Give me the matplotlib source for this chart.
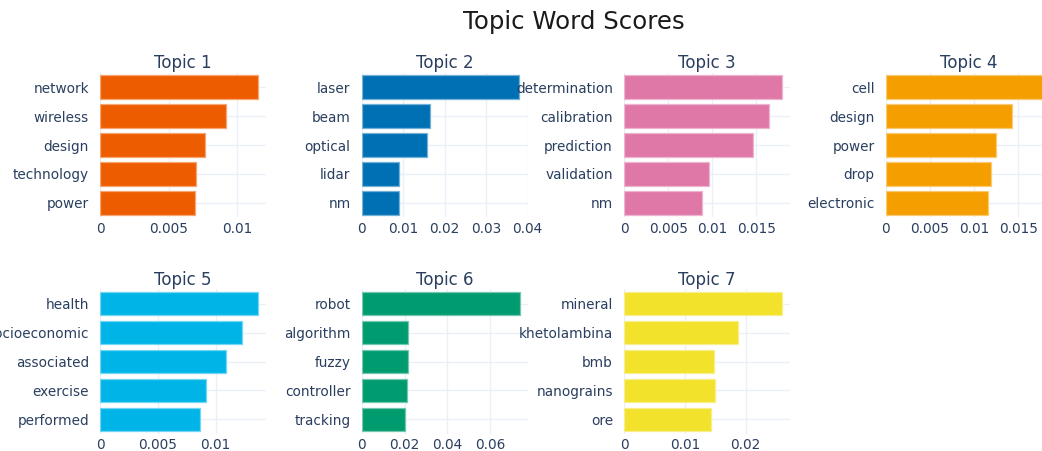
import matplotlib
matplotlib.use("Agg")
import matplotlib.pyplot as plt
import matplotlib.colors as mcolors

# ---- data ----
topic_titles = ["Topic 1", "Topic 2", "Topic 3", "Topic 4", "Topic 5", "Topic 6", "Topic 7"]
topic1_words = ["network", "wireless", "design", "technology", "power"]
topic1_scores = [0.01151, 0.00915, 0.00763, 0.0070, 0.0069]
topic2_words = ["laser", "beam", "optical", "lidar", "nm"]
topic2_scores = [0.0378, 0.0164, 0.0158, 0.0091, 0.0090]
topic3_words = ["determination", "calibration", "prediction", "validation", "nm"]
topic3_scores = [0.0179, 0.01643, 0.01466, 0.0096, 0.00884]
topic4_words = ["cell", "design", "power", "drop", "electronic"]
topic4_scores = [0.0179, 0.01428, 0.01248, 0.01188, 0.01157]
topic5_words = ["health", "socioeconomic", "associated", "exercise", "performed"]
topic5_scores = [0.01368, 0.01232, 0.01087, 0.00916, 0.00864]
topic6_words = ["robot", "algorithm", "fuzzy", "controller", "tracking"]
topic6_scores = [0.0738, 0.0218, 0.0215, 0.0211, 0.0200]
topic7_words = ["mineral", "khetolambina", "bmb", "nanograins", "ore"]
topic7_scores = [0.0260, 0.01873, 0.01488, 0.01490, 0.01438]

topic1_ticks = [0, 0.005, 0.01]
topic2_ticks = [0, 0.01, 0.02, 0.03, 0.04]
topic3_ticks = [0, 0.005, 0.01, 0.015]
topic4_ticks = [0, 0.005, 0.01, 0.015]
topic5_ticks = [0, 0.005, 0.01]
topic6_ticks = [0, 0.02, 0.04, 0.06]
topic7_ticks = [0, 0.01, 0.02]

colors = ["#EE5C00", "#0070B4", "#DF78A7", "#F59E00", "#00B4E8", "#009B6E", "#F2E22C"]

words = [topic1_words, topic2_words, topic3_words, topic4_words,
         topic5_words, topic6_words, topic7_words]
scores = [topic1_scores, topic2_scores, topic3_scores, topic4_scores,
          topic5_scores, topic6_scores, topic7_scores]
ticks = [topic1_ticks, topic2_ticks, topic3_ticks, topic4_ticks,
         topic5_ticks, topic6_ticks, topic7_ticks]

# ---- layout ----
W, H = 1042, 451
fig = plt.figure(figsize=(W / 100, H / 100), dpi=100)
fig.patch.set_facecolor("white")

col_left_px = [100, 361.7, 624, 885.7]
width_px = 166
row_top_px = [72.6, 289.1]
height_px = 144.8

text_color = "#2a3f5f"
grid_color = "#EBF0F8"

def fmt(v):
    return "0" if v == 0 else "{:g}".format(v)

for i in range(7):
    r, c = divmod(i, 4)
    left = col_left_px[c] / W
    bottom = 1 - (row_top_px[r] + height_px) / H
    ax = fig.add_axes([left, bottom, width_px / W, height_px / H])
    ax.set_facecolor("white")
    n = len(words[i])
    ypos = list(range(n))[::-1]
    edge = mcolors.to_rgba(colors[i])
    edge = tuple(min(1, e + (1 - e) * 0.45) for e in edge[:3])
    ax.barh(ypos, scores[i], height=0.8, color=colors[i],
            edgecolor=edge, linewidth=0.9, zorder=3)
    ax.set_ylim(-0.5, n - 0.5)
    ax.set_xlim(0, max(scores[i]) * 1.05)
    ax.set_yticks(ypos)
    ax.set_yticklabels(words[i])
    ax.set_xticks(ticks[i])
    ax.set_xticklabels([fmt(t) for t in ticks[i]])
    ax.grid(True, color=grid_color, linewidth=1.0, zorder=0)
    ax.set_axisbelow(True)
    for s in ax.spines.values():
        s.set_visible(False)
    ax.tick_params(axis="y", length=0, pad=8, labelsize=9.8, labelcolor=text_color)
    ax.tick_params(axis="x", length=0, pad=3, labelsize=9.8, labelcolor=text_color)
    ax.text(0.5, 1 + 9.3 / height_px, topic_titles[i], transform=ax.transAxes,
            ha="center", va="center", fontsize=12, color=text_color)

fig.text(574 / W, 1 - 22.5 / H, "Topic Word Scores", ha="center", va="center",
         fontsize=17.6, color="#1a1a1a")

fig.savefig("out.png", dpi=100, facecolor="white")
